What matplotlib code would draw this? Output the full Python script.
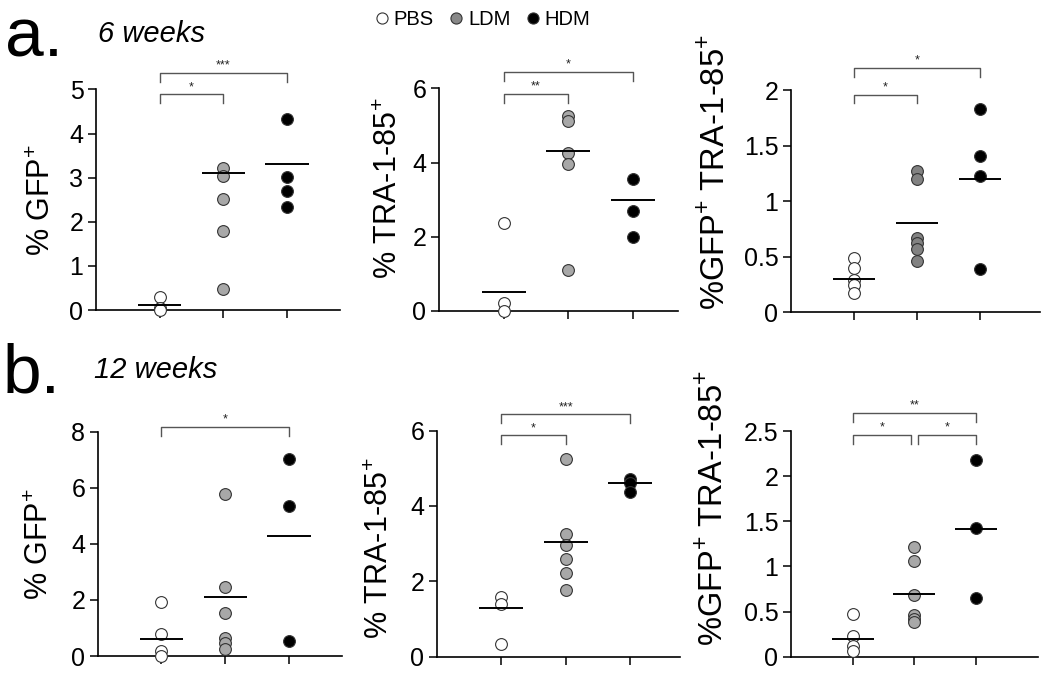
import numpy as np
import matplotlib
matplotlib.use('Agg')
import matplotlib.pyplot as plt
from matplotlib.lines import Line2D

plt.rcParams['font.family'] = ['Liberation Sans', 'DejaVu Sans']
plt.rcParams['mathtext.fontset'] = 'custom'
plt.rcParams['mathtext.rm'] = 'Liberation Sans'

groups = ['PBS', 'LDM', 'HDM']

# a. 6 weeks
a_gfp = [[0.3, 0.05, 0.0], [3.21, 3.04, 2.52, 1.80, 0.47], [4.32, 3.01, 2.70, 2.33]]
a_gfp_mean = [0.11, 3.11, 3.30]
a_tra = [[2.37, 0.2, 0.0], [5.26, 5.13, 4.26, 3.96, 1.10], [3.55, 2.70, 2.0]]
a_tra_mean = [0.51, 4.31, 3.0]
a_dbl = [[0.49, 0.40, 0.29, 0.24, 0.17], [1.27, 1.20, 0.67, 0.62, 0.57, 0.46], [1.83, 1.41, 1.23, 0.39]]
a_dbl_mean = [0.30, 0.80, 1.20]

# b. 12 weeks
b_gfp = [[1.93, 0.78, 0.18, 0.0], [5.77, 2.47, 1.52, 0.63, 0.45, 0.25], [7.04, 5.35, 0.52]]
b_gfp_mean = [0.59, 2.09, 4.29]
b_tra = [[1.59, 1.40, 0.35], [5.25, 3.25, 2.96, 2.60, 2.23, 1.77], [4.72, 4.60, 4.36]]
b_tra_mean = [1.30, 3.04, 4.61]
b_dbl = [[0.47, 0.23, 0.12, 0.06], [1.22, 1.06, 0.68, 0.46, 0.42, 0.38], [2.18, 1.43, 0.65]]
b_dbl_mean = [0.20, 0.70, 1.41]

lbl_gfp = '% GFP$^{\\mathrm{+}}$'
lbl_tra = '% TRA-1-85$^{\\mathrm{+}}$'
lbl_dbl = '%GFP$^{\\mathrm{+}}$ TRA-1-85$^{\\mathrm{+}}$'

# brackets: (x1, x2, y, stars)
panels = [
    dict(data=a_gfp, mean=a_gfp_mean, label=lbl_gfp, lsize=22, pos=[0.0914, 0.546, 0.2324, 0.323],
         ylim=5, ticks=[0, 1, 2, 3, 4, 5], tlabels=['0', '1', '2', '3', '4', '5'], xmax=3.83,
         ldm='#a8a8a8', lx=-0.16, ly=0.5,
         br=[(1, 3, 5.38, '***'), (1, 2, 4.89, '*')]),
    dict(data=a_tra, mean=a_tra_mean, label=lbl_tra, lsize=22, pos=[0.418, 0.545, 0.2276, 0.3256],
         ylim=6, ticks=[0, 2, 4, 6], tlabels=['0', '2', '4', '6'], xmax=3.69,
         ldm='#a8a8a8', lx=-0.146, ly=0.55,
         br=[(1, 3, 6.45, '*'), (1, 2, 5.85, '**')]),
    dict(data=a_dbl, mean=a_dbl_mean, label=lbl_dbl, lsize=23.5, pos=[0.7533, 0.543, 0.237, 0.325],
         ylim=2, ticks=[0, 0.5, 1, 1.5, 2], tlabels=['0', '0.5', '1', '1.5', '2'], xmax=3.95,
         ldm='#828282', lx=-0.241, ly=0.63,
         br=[(1, 3, 2.20, '*'), (1, 2, 1.96, '*')]),
    dict(data=b_gfp, mean=b_gfp_mean, label=lbl_gfp, lsize=22, pos=[0.093, 0.0395, 0.2327, 0.3284],
         ylim=8, ticks=[0, 2, 4, 6, 8], tlabels=['0', '2', '4', '6', '8'], xmax=3.83,
         ldm='#a8a8a8', lx=-0.175, ly=0.5,
         br=[(1, 3, 8.18, '*')]),
    dict(data=b_tra, mean=b_tra_mean, label=lbl_tra, lsize=22, pos=[0.4159, 0.0385, 0.2317, 0.331],
         ylim=6, ticks=[0, 2, 4, 6], tlabels=['0', '2', '4', '6'], xmax=3.77,
         ldm='#a8a8a8', lx=-0.171, ly=0.48,
         br=[(1, 3, 6.43, '***'), (1, 2, 5.88, '*')]),
    dict(data=b_dbl, mean=b_dbl_mean, label=lbl_dbl, lsize=23.5, pos=[0.7533, 0.0385, 0.2352, 0.3304],
         ylim=2.5, ticks=[0, 0.5, 1, 1.5, 2, 2.5], tlabels=['0', '0.5', '1', '1.5', '2', '2.5'], xmax=4.0,
         ldm='#a8a8a8', lx=-0.251, ly=0.66,
         br=[(1, 3, 2.70, '**'), (1, 1.95, 2.46, '*'), (2.05, 3, 2.46, '*')]),
]

fig = plt.figure(figsize=(10.5, 6.83), dpi=100)

for p in panels:
    ax = fig.add_axes(p['pos'])
    fills = ['white', p['ldm'], 'black']
    for i, vals in enumerate(p['data']):
        x = np.full(len(vals), i + 1)
        ax.scatter(x, vals, s=72, facecolor=fills[i], edgecolor='#333333',
                   linewidth=0.8, zorder=3, clip_on=False)
        ax.plot([i + 1 - 0.34, i + 1 + 0.34], [p['mean'][i]] * 2, color='black',
                lw=1.4, zorder=4, solid_capstyle='butt')
    ax.set_xlim(0, p['xmax'])
    ax.set_ylim(0, p['ylim'])
    ax.set_xticks([1, 2, 3])
    ax.set_xticklabels([])
    ax.set_yticks(p['ticks'])
    ax.set_yticklabels(p['tlabels'])
    ax.tick_params(axis='y', labelsize=18, length=6, width=1.1, direction='out', pad=3)
    ax.tick_params(axis='x', length=6, width=1.1, direction='out')
    for s in ['top', 'right']:
        ax.spines[s].set_visible(False)
    for s in ['left', 'bottom']:
        ax.spines[s].set_linewidth(1.2)
    ax.set_ylabel(p['label'], fontsize=p['lsize'])
    ax.yaxis.set_label_coords(p['lx'], p['ly'])

    drop = p['ylim'] * 0.04
    for x1, x2, y, stars in p['br']:
        ax.plot([x1, x1, x2, x2], [y - drop, y, y, y - drop], color='#555555',
                lw=1.0, clip_on=False)
        ax.text((x1 + x2) / 2, y + p['ylim'] * 0.005, stars, ha='center', va='bottom',
                fontsize=9, color='#222222', clip_on=False)

fig.text(0.005, 0.918, 'a.', fontsize=50, ha='left', va='baseline')
fig.text(0.093, 0.938, '6 weeks', fontsize=21, style='italic', ha='left', va='baseline')
fig.text(0.002, 0.426, 'b.', fontsize=50, ha='left', va='baseline')
fig.text(0.090, 0.447, '12 weeks', fontsize=21, style='italic', ha='left', va='baseline')

handles = [Line2D([], [], ls='', marker='o', ms=8, mfc=c, mec='#333333', mew=0.8)
           for c in ['white', '#888888', 'black']]
fig.legend(handles, groups, loc='center', bbox_to_anchor=(0.458, 0.971), ncol=3,
           frameon=False, fontsize=14.5, handletextpad=0.1, columnspacing=0.6,
           handlelength=1.0, borderaxespad=0)

fig.savefig('out.png', dpi=100)
